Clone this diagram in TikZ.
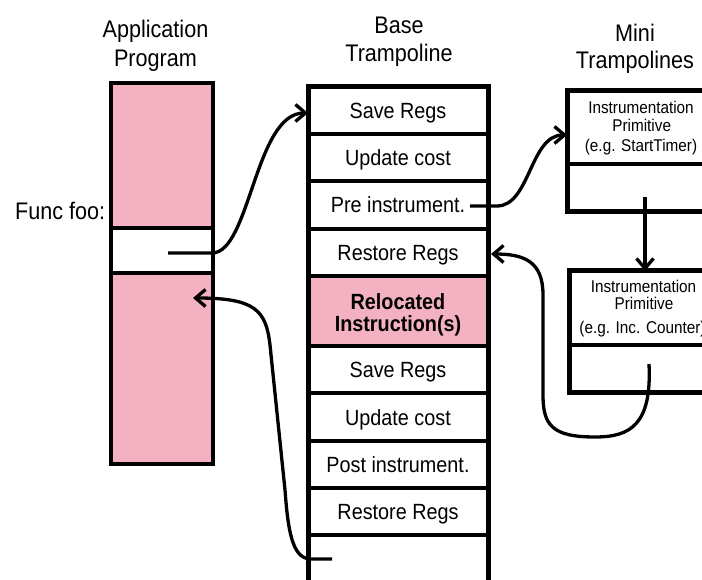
\documentclass[tikz,border=0pt]{standalone}
\usepackage{fontspec}
\setmainfont{Liberation Sans}[FakeStretch=0.9]
\usetikzlibrary{arrows.meta}
\definecolor{apppink}{RGB}{244,177,193}
\begin{document}
\begin{tikzpicture}[x=1pt,y=-1pt,
  seg/.style={draw, line width=4.5pt, inner sep=0pt, outer sep=0pt, minimum width=102pt, anchor=north west},
  row/.style={draw, line width=3.5pt, inner sep=0pt, outer sep=0pt, minimum width=180pt, minimum height=#1, text height=16pt, text depth=0pt, font=\fontsize{22}{26}\selectfont},
  mini/.style={draw, line width=3.5pt, inner sep=0pt, outer sep=0pt, minimum width=150pt, minimum height=#1, anchor=north west},
  title/.style={anchor=base, inner sep=0pt, font=\fontsize{24}{28}\selectfont},
  boldtxt/.style={anchor=base, inner sep=0pt, font=\fontsize{22}{26}\selectfont\bfseries},
  small/.style={anchor=base, inner sep=0pt, font=\fontsize{17}{20}\selectfont},
  conn/.style={line width=3.3pt, -{Straight Barb[length=10pt,width=17pt]}},
  frame/.style={line width=5pt, line join=miter}
]
\useasboundingbox (0,0) rectangle (702,580);
\clip (0,0) rectangle (702,580);

% titles
\node[title] (tA1) at (155.5,38) {Application};
\node[title] (tA2) at (155.5,66.7) {Program};
\node[title] (tB1) at (399,33.3) {Base};
\node[title] (tB2) at (399,61.7) {Trampoline};
\node[title] (tM1) at (635,41.7) {Mini};
\node[title] (tM2) at (635,68.3) {Trampolines};

% application program
\node[seg, fill=apppink, minimum height=145pt] (app1) at (111,83) {};
\node[seg, fill=white, minimum height=45pt] (app2) at (111,228) {};
\node[seg, fill=apppink, minimum height=191pt] (app3) at (111,273) {};
\node[anchor=base west, inner sep=0pt, font=\fontsize{24}{28}\selectfont] (func) at (15,220) {Func foo:};

% base trampoline
\node[row=47pt] (b1) at (398,110.5) {Save Regs};
\node[row=47pt] (b2) at (398,157.5) {Update cost};
\node[row=48pt] (b3) at (398,205) {Pre instrument.};
\node[row=47pt] (b4) at (398,252.5) {Restore Regs};
\node[row=70pt, fill=apppink] (b5) at (398,311) {};
\node[boldtxt] (r1) at (398,309.3) {Relocated};
\node[boldtxt] (r2) at (398,331.7) {Instruction(s)};
\node[row=47pt] (b6) at (398,369.5) {Save Regs};
\node[row=48pt] (b7) at (398,417) {Update cost};
\node[row=47pt] (b8) at (398,464.5) {Post instrument.};
\node[row=47pt] (b9) at (398,511.5) {Restore Regs};
\node[row=65pt] (b10) at (398,567.5) {};
\draw[frame] (b10.south west) -- (b1.north west) -- (b1.north east) -- (b10.south east);

% mini trampolines
\node[mini=73pt] (m1) at (567,91) {};
\node[mini=48pt] (m1b) at (567,164) {};
\draw[frame] (m1b.south east) -- (m1b.south west) -- (m1.north west) -- (m1.north east);
\node[small] (m1t1) at (641,113.3) {Instrumentation};
\node[small] (m1t2) at (641.7,131.7) {Primitive};
\node[small] (m1t3) at (641,151.7) {(e.g. StartTimer)};

\node[mini=74pt] (m2) at (569,271) {};
\node[mini=47pt] (m2b) at (569,345) {};
\draw[frame] (m2b.south east) -- (m2b.south west) -- (m2.north west) -- (m2.north east);
\node[small] (m2t1) at (643.5,292.7) {Instrumentation};
\node[small] (m2t2) at (644,310) {Primitive};
\node[small] (m2t3) at (642.5,333.3) {(e.g. Inc. Counter)};

% connectors
\coordinate (s1) at (168,253);
\draw[conn] (s1) -- (212,253) .. controls (250,253) and (255,113) .. ([yshift=-2.5pt]b1.west);

\coordinate (s2) at (470,206);
\draw[conn] (s2) -- (497,206) .. controls (530,206) and (530,135) .. ([yshift=-7.5pt]m1.west);

\coordinate (s3) at (645,197);
\draw[conn] (s3) -- (s3 |- m2.north);

\coordinate (s4) at (649,364);
\draw[conn] (s4) .. controls (652,425) and (630,437) .. (595,437)
  .. controls (552,437) and (543,425) .. (543,395) -- (543,295)
  .. controls (543,262) and (525,254) .. ([xshift=3pt,yshift=-1.5pt]b4.east);

\coordinate (s5) at (332,559);
\draw[conn] (s5) -- (310,559) .. controls (292,558) and (288,530) .. (285,490) -- (270,345)
  .. controls (266,310) and (255,298) .. ([xshift=31pt,yshift=70.5pt]app3.center);
\end{tikzpicture}
\end{document}
